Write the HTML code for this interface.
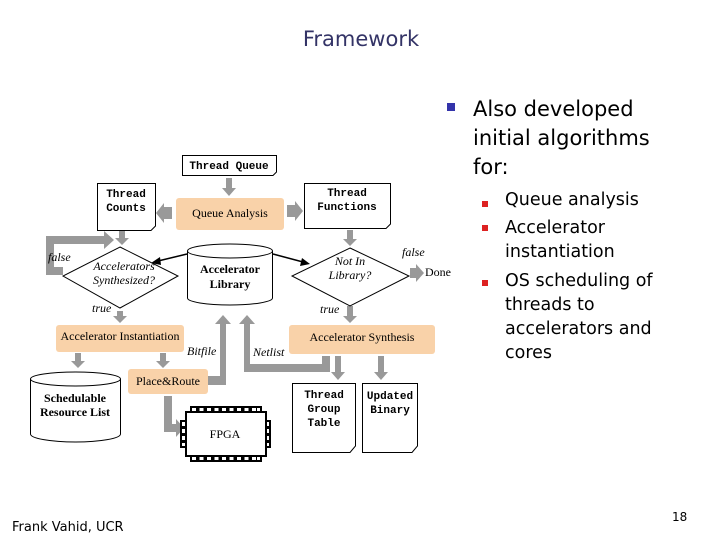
<!DOCTYPE html>
<html><head><meta charset="utf-8"><style>
html,body{margin:0;padding:0;background:#fff;width:720px;height:540px;overflow:hidden}
svg{display:block}
.m{font-family:"Liberation Mono",monospace;font-weight:bold;font-size:11px}
.s{font-family:"Liberation Serif",serif;font-size:12px}
.i{font-family:"Liberation Serif",serif;font-style:italic;font-size:12px}
.t{font-family:"DejaVu Sans","Liberation Sans",sans-serif}
</style></head><body>
<svg width="720" height="540" viewBox="0 0 720 540" xmlns="http://www.w3.org/2000/svg">
<text x="361" y="46" text-anchor="middle" class="t" font-size="21" fill="#333366">Framework</text>

<!-- right bullets -->
<rect x="447" y="103" width="8" height="8" fill="#3333aa"/>
<g class="t" font-size="21" fill="#000">
<text x="473" y="116">Also developed</text>
<text x="473" y="145">initial algorithms</text>
<text x="473" y="174">for:</text>
</g>
<g fill="#dd2222"><rect x="482" y="201" width="6" height="6"/><rect x="482" y="225" width="6" height="6"/><rect x="482" y="280" width="6" height="6"/></g>
<g class="t" font-size="17.5" fill="#000">
<text x="505" y="205">Queue analysis</text>
<text x="505" y="233">Accelerator</text>
<text x="505" y="257">instantiation</text>
<text x="505" y="286">OS scheduling of</text>
<text x="505" y="310">threads to</text>
<text x="505" y="334">accelerators and</text>
<text x="505" y="358">cores</text>
</g>

<!-- gray arrows -->
<g fill="#999">
<polygon points="226,178 232,178 232,188 236,188 229,196 222,188 226,188"/>
<polygon points="119,231 125,231 125,238 129,238 122,245 115,238 119,238"/>
<polygon points="347,230 353,230 353,239 357,239 350,246 343,239 347,239"/>
<polygon points="117,311 123,311 123,316 127,316 120,323 113,316 117,316"/>
<polygon points="347,306 353,306 353,316 357,316 350,323 343,316 347,316"/>
<polygon points="75,353 81,353 81,361 85,361 78,368 71,361 75,361"/>
<polygon points="160,353 166,353 166,361 170,361 163,368 156,361 160,361"/>
<polygon points="335,356 341,356 341,372 345,372 338,380 331,372 335,372"/>
<polygon points="378,356 384,356 384,372 388,372 381,380 374,372 378,372"/>
<polygon points="172,207 172,219 164,219 164,223 156,213 164,203 164,207"/>
<polygon points="287,205 287,217 295,217 295,221 303,211 295,201 295,205"/>
<polygon points="410,268 410,278 416,278 416,282 424,273 416,264 416,268"/>
<!-- false loop -->
<polygon points="63,275 46,275 46,236 104,236 104,231 114,240 104,249 104,244 54,244 54,267 63,267"/>
<!-- bitfile -->
<polygon points="208,376 220,376 220,324 215,324 223,315 231,324 226,324 226,385 208,385"/>
<!-- netlist -->
<polygon points="244,324 239,324 247,315 255,324 250,324 250,364 322,364 322,356 330,356 330,372 244,372"/>
<!-- P&R to FPGA -->
<polygon points="164,396 172,396 172,424 176,424 176,419 184,428 176,437 176,432 164,432"/>
</g>

<!-- black arrows -->
<g stroke="#000" stroke-width="1.5" fill="#000">
<line x1="187" y1="254" x2="158" y2="261"/><polygon points="151,263 160,257 161,265" stroke="none"/>
<line x1="273" y1="254" x2="303" y2="262"/><polygon points="310,264 300,266 302,258" stroke="none"/>
</g>

<!-- documents -->
<g fill="#fff" stroke="#000" stroke-width="1">
<path d="M182.5,155.5 H276.5 V172 L273,175.5 H182.5 Z"/>
<path d="M97.5,183.5 H155.5 V226 L151,230.5 H97.5 Z"/>
<path d="M304.5,183.5 H390.5 V224 L386,228.5 H304.5 Z"/>
<path d="M292.5,383.5 H355.5 V446 L350,452.5 H292.5 Z"/>
<path d="M362.5,383.5 H417.5 V446 L412,452.5 H362.5 Z"/>
</g>
<text x="229" y="169" text-anchor="middle" class="m">Thread Queue</text>
<text x="126" y="197" text-anchor="middle" class="m">Thread</text>
<text x="126" y="211" text-anchor="middle" class="m">Counts</text>
<text x="347" y="196" text-anchor="middle" class="m">Thread</text>
<text x="347" y="210" text-anchor="middle" class="m">Functions</text>
<text x="324" y="398" text-anchor="middle" class="m">Thread</text>
<text x="324" y="412" text-anchor="middle" class="m">Group</text>
<text x="324" y="426" text-anchor="middle" class="m">Table</text>
<text x="390" y="399" text-anchor="middle" class="m">Updated</text>
<text x="390" y="413" text-anchor="middle" class="m">Binary</text>

<!-- orange boxes -->
<g fill="#f9d2a9">
<rect x="176" y="198" width="108" height="32" rx="3"/>
<rect x="56" y="325" width="128" height="27" rx="3"/>
<rect x="289" y="325" width="146" height="29" rx="3"/>
<rect x="128" y="369" width="80" height="25" rx="3"/>
</g>
<text x="230" y="217" text-anchor="middle" class="s">Queue Analysis</text>
<text x="120" y="340" text-anchor="middle" class="s">Accelerator Instantiation</text>
<text x="362" y="341" text-anchor="middle" class="s">Accelerator Synthesis</text>
<text x="168" y="385" text-anchor="middle" class="s">Place&amp;Route</text>

<!-- diamonds -->
<g fill="#fff" stroke="#000" stroke-width="1">
<polygon points="120,247 178,276 120,308 63,276"/>
<polygon points="350,248 409,276 350,306 292,276"/>
</g>
<text x="124" y="270" text-anchor="middle" class="i">Accelerators</text>
<text x="124" y="284" text-anchor="middle" class="i">Synthesized?</text>
<text x="350" y="265" text-anchor="middle" class="i">Not In</text>
<text x="350" y="279" text-anchor="middle" class="i">Library?</text>

<!-- cylinders -->
<g fill="#fff" stroke="#000" stroke-width="1">
<path d="M187.5,251 V298 A42.5,7 0 0 0 272.5,298 V251"/>
<ellipse cx="230" cy="251" rx="42.5" ry="7"/>
<path d="M30.5,379 V434 A45,8 0 0 0 120.5,434 V379"/>
<ellipse cx="75.5" cy="379" rx="45" ry="7"/>
</g>
<text x="230" y="273" text-anchor="middle" class="s" font-weight="bold">Accelerator</text>
<text x="230" y="288" text-anchor="middle" class="s" font-weight="bold">Library</text>
<text x="75" y="402" text-anchor="middle" class="s" font-weight="bold">Schedulable</text>
<text x="75" y="416" text-anchor="middle" class="s" font-weight="bold">Resource List</text>

<!-- FPGA -->
<g fill="#000">
<rect x="190" y="406" width="72" height="7"/>
<rect x="190" y="455" width="72" height="7"/>
<rect x="180" y="420" width="7" height="28"/>
<rect x="264" y="420" width="7" height="28"/>
</g>
<g fill="#fff">
<rect x="192" y="408" width="4" height="3"/><rect x="199.5" y="408" width="4" height="3"/><rect x="207" y="408" width="4" height="3"/><rect x="214.5" y="408" width="4" height="3"/><rect x="222" y="408" width="4" height="3"/><rect x="229.5" y="408" width="4" height="3"/><rect x="237" y="408" width="4" height="3"/><rect x="244.5" y="408" width="4" height="3"/><rect x="252" y="408" width="4" height="3"/><rect x="257" y="408" width="3" height="3"/>
<rect x="192" y="457" width="4" height="3"/><rect x="199.5" y="457" width="4" height="3"/><rect x="207" y="457" width="4" height="3"/><rect x="214.5" y="457" width="4" height="3"/><rect x="222" y="457" width="4" height="3"/><rect x="229.5" y="457" width="4" height="3"/><rect x="237" y="457" width="4" height="3"/><rect x="244.5" y="457" width="4" height="3"/><rect x="252" y="457" width="4" height="3"/><rect x="257" y="457" width="3" height="3"/>
<rect x="182" y="422" width="3" height="4"/><rect x="182" y="429" width="3" height="4"/><rect x="182" y="436" width="3" height="4"/><rect x="182" y="443" width="3" height="3"/>
<rect x="266" y="422" width="3" height="4"/><rect x="266" y="429" width="3" height="4"/><rect x="266" y="436" width="3" height="4"/><rect x="266" y="443" width="3" height="3"/>
</g>
<rect x="186" y="412" width="80" height="44" fill="#fff" stroke="#000" stroke-width="2"/>
<text x="225" y="438" text-anchor="middle" class="s" font-size="13">FPGA</text>

<!-- labels -->
<text x="48" y="261" class="i">false</text>
<text x="402" y="256" class="i">false</text>
<text x="425" y="276" class="s" font-size="11">Done</text>
<text x="92" y="312" class="i">true</text>
<text x="320" y="313" class="i">true</text>
<text x="187" y="355" class="i">Bitfile</text>
<text x="253" y="356" class="i">Netlist</text>

<text x="12" y="531" class="t" font-size="13">Frank Vahid, UCR</text>
<text x="672" y="521" class="t" font-size="12">18</text>
</svg>
</body></html>
